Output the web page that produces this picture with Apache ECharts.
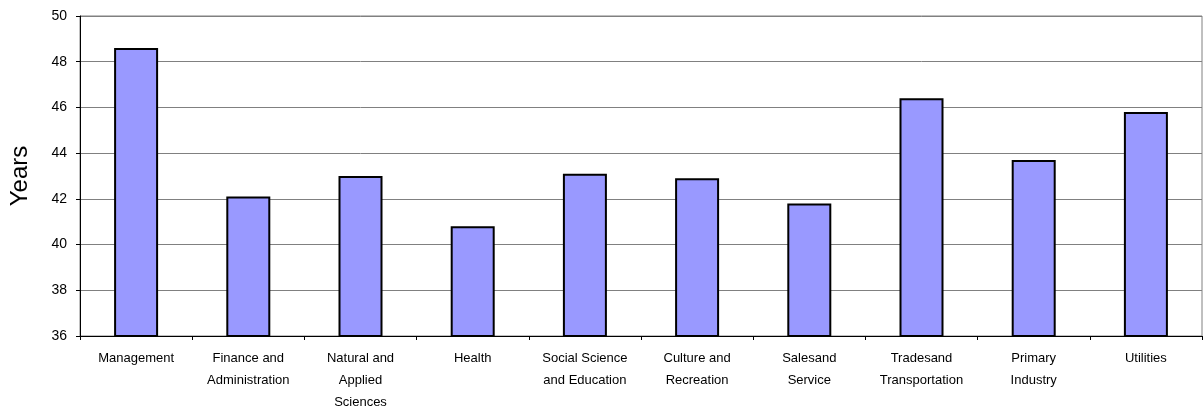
<!DOCTYPE html>
<html>
<head>
<meta charset="utf-8">
<script src="https://cdn.jsdelivr.net/npm/echarts@6/dist/echarts.min.js"></script>
<style>
  html, body { margin: 0; padding: 0; background: #fff; }
  #chart { width: 1204px; height: 413px; }
</style>
</head>
<body>
<div id="chart"></div>
<script>
// Occupational groups (labels wrap onto several lines)
const categories = [
  'Management',
  'Finance and\nAdministration',
  'Natural and\nApplied\nSciences',
  'Health',
  'Social Science\nand Education',
  'Culture and\nRecreation',
  'Salesand\nService',
  'Tradesand\nTransportation',
  'Primary\nIndustry',
  'Utilities'
];

// Average age in years per group
const ageYears = [48.6, 42.1, 43.0, 40.8, 43.1, 42.9, 41.8, 46.4, 43.7, 45.8];

// Value axis range and step
const yMin = 36;
const yMax = 50;
const yStep = 2;

const chart = echarts.init(document.getElementById('chart'));

chart.setOption({
  animation: false,
  backgroundColor: '#ffffff',
  grid: {
    left: 79,
    right: 2,
    top: 16,
    bottom: 77,
    show: true,
    borderColor: '#808080',
    borderWidth: 1
  },
  xAxis: {
    type: 'category',
    data: categories,
    axisLine: { show: true, lineStyle: { color: '#000000', width: 1 } },
    axisTick: { show: true, alignWithLabel: false, length: 4, lineStyle: { color: '#000000' } },
    axisLabel: {
      interval: 0,
      margin: 11,
      color: '#000000',
      fontFamily: 'Liberation Sans, Arial, sans-serif',
      fontSize: 13,
      lineHeight: 22
    },
    splitLine: { show: false }
  },
  yAxis: {
    type: 'value',
    min: yMin,
    max: yMax,
    interval: yStep,
    name: 'Years',
    nameLocation: 'middle',
    nameGap: 48,
    nameRotate: 90,
    nameTextStyle: {
      color: '#000000',
      fontFamily: 'Liberation Sans, Arial, sans-serif',
      fontSize: 24
    },
    axisLine: { show: true, lineStyle: { color: '#000000', width: 1 } },
    axisTick: { show: true, length: 4, lineStyle: { color: '#000000' } },
    axisLabel: {
      margin: 13,
      color: '#000000',
      fontFamily: 'Liberation Sans, Arial, sans-serif',
      fontSize: 14
    },
    splitLine: { show: true, lineStyle: { color: '#808080', width: 1 } }
  },
  series: [{
    type: 'bar',
    data: ageYears,
    barWidth: 44,
    itemStyle: {
      color: '#9999FF',
      borderColor: '#000000',
      borderWidth: 2
    }
  }]
});
</script>
</body>
</html>
